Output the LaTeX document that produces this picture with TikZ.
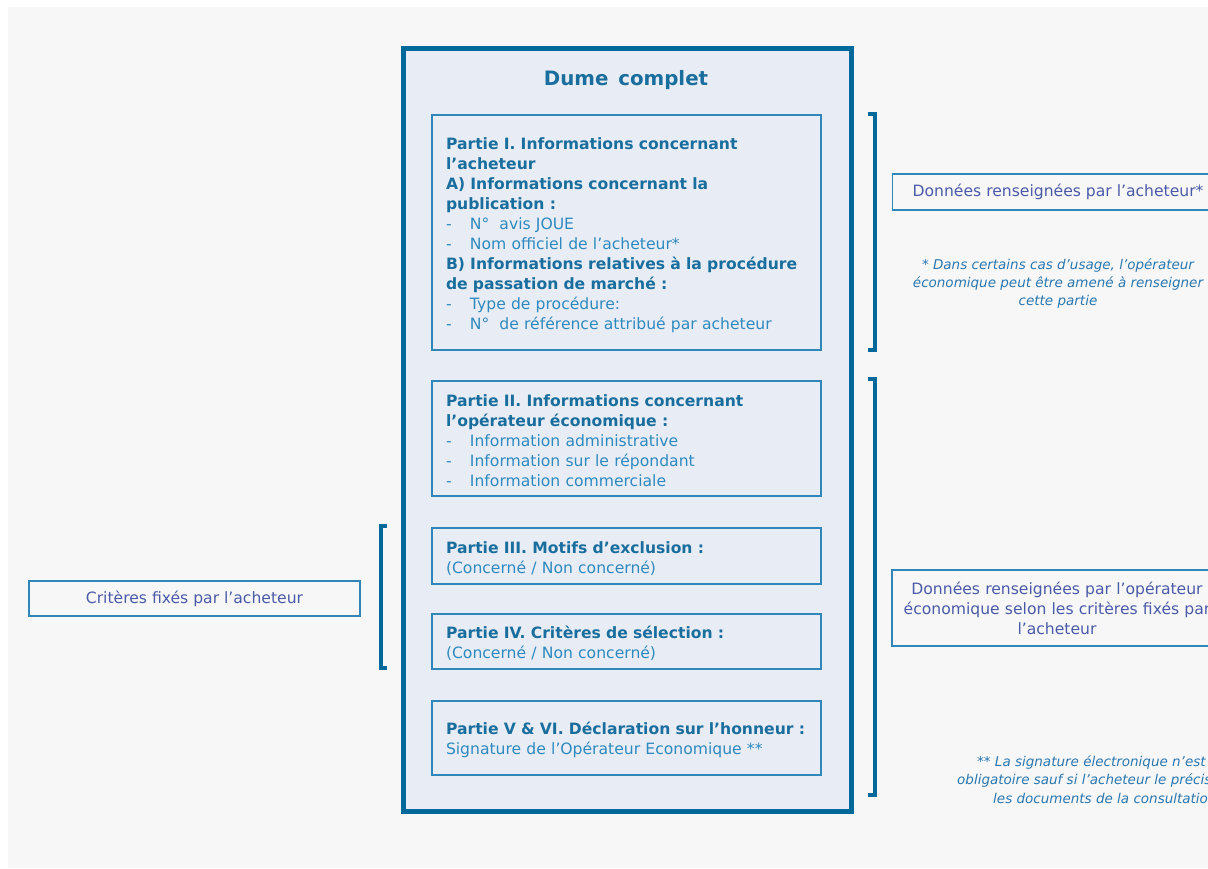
\documentclass[tikz,border=0pt]{standalone}
\usepackage{fontspec}
\setmainfont{DejaVu Sans}
\definecolor{bggray}{HTML}{F7F7F7}
\definecolor{outerc}{HTML}{00699B}
\definecolor{outfill}{HTML}{E8EDF5}
\definecolor{boxline}{HTML}{2F86B8}
\definecolor{headc}{HTML}{1A6E9E}
\definecolor{bodyc}{HTML}{2E89BF}
\definecolor{labc}{HTML}{4B5AA8}
\definecolor{notec}{HTML}{2A77B0}
\newcommand{\hd}[1]{\mbox{\bfseries\color{headc}#1}}
\newcommand{\itm}[1]{\mbox{\makebox[24pt][l]{-}#1}}
\newcommand{\topstr}{\rule{0pt}{16.8pt}}
\begin{document}
\begin{tikzpicture}[x=1pt,y=-1pt,
  partbox/.style={draw=boxline, line width=1.3pt, text width=361pt, inner xsep=14pt, inner ysep=0pt,
    align=left, text=bodyc, font=\fontsize{15.6pt}{20pt}\selectfont},
  labbox/.style={draw=boxline, line width=1.3pt, text=labc, inner ysep=0pt,
    font=\fontsize{15.6pt}{20pt}\selectfont},
  notetext/.style={text=notec, inner sep=0pt, font=\fontsize{13.5pt}{18pt}\selectfont\itshape},
  bracketline/.style={draw=outerc, line width=4pt}]
\useasboundingbox (0,0) rectangle (1208,868);
\fill[bggray] (8,7) rectangle (1208,868);
\begin{scope}
\clip (0,0) rectangle (1208,868);
% outer box
\node[draw=outerc, line width=5pt, fill=outfill, minimum width=448pt, minimum height=762.5pt, inner sep=0pt] (dume) at (627.5,429.75) {};
\node[text=headc, font=\fontsize{19.8pt}{24pt}\selectfont\bfseries] (title) at (626,80) {Dume\hspace{3pt} complet};
% parts
\node[partbox, minimum height=235pt] (p1) at (626.5,232.5) {\topstr\hd{Partie I. Informations concernant}\\\hd{l’acheteur}\\\hd{A) Informations concernant la}\\\hd{publication :}\\\itm{N°\hspace{10pt}avis JOUE}\\\itm{Nom officiel de l’acheteur*}\\\hd{B) Informations relatives à la procédure}\\\hd{de passation de marché :}\\\itm{Type de procédure:}\\\itm{N°\hspace{10pt}de référence attribué par acheteur}};
\node[partbox, minimum height=115pt] (p2) at (626.5,438.5) {\topstr\hd{Partie II. Informations concernant}\\\hd{l’opérateur économique :}\\\itm{Information administrative}\\\itm{Information sur le répondant}\\\itm{Information commerciale}};
\node[partbox, minimum height=56pt] (p3) at (626.5,556) {\topstr\hd{Partie III. Motifs d’exclusion :}\\\mbox{(Concerné / Non concerné)}};
\node[partbox, minimum height=55pt] (p4) at (626.5,641.5) {\topstr\hd{Partie IV. Critères de sélection :}\\\mbox{(Concerné / Non concerné)}};
\node[partbox, minimum height=74pt] (p5) at (626.5,738) {\topstr\hd{Partie V \& VI. Déclaration sur l’honneur :}\\\mbox{Signature de l’Opérateur Economique **}};
% brackets
\draw[bracketline] (868,114) -- (875,114) -- (875,350) -- (868,350);
\draw[bracketline] (868,379) -- (875,379) -- (875,795) -- (868,795);
\draw[bracketline] (387,526) -- (381,526) -- (381,668) -- (387,668);
% labels
\node[labbox, minimum width=331pt, minimum height=35pt, inner xsep=0pt] (crit) at (194.5,598.5) {Critères fixés par l’acheteur};
\node[labbox, anchor=west, minimum height=36pt, inner xsep=20pt] (don1) at (892,192) {Données renseignées par l’acheteur*};
\node[labbox, minimum width=330pt, minimum height=76pt, text width=330pt, inner xsep=0pt, align=center] (don2) at (1057,608) {\mbox{Données renseignées par l’opérateur}\\\mbox{économique selon les critères fixés par}\\l’acheteur};
% notes
\node[notetext, align=center] (note1) at (1058,283) {* Dans certains cas d’usage, l’opérateur\\économique peut être amené à renseigner\\cette partie};
\node[notetext, anchor=west] (note2a) at (977,762) {** La signature électronique n’est};
\node[notetext, anchor=west] (note2b) at (957,780) {obligatoire sauf si l’acheteur le précise};
\node[notetext, anchor=west] (note2c) at (993,798) {les documents de la consultation};
\end{scope}
\end{tikzpicture}
\end{document}
